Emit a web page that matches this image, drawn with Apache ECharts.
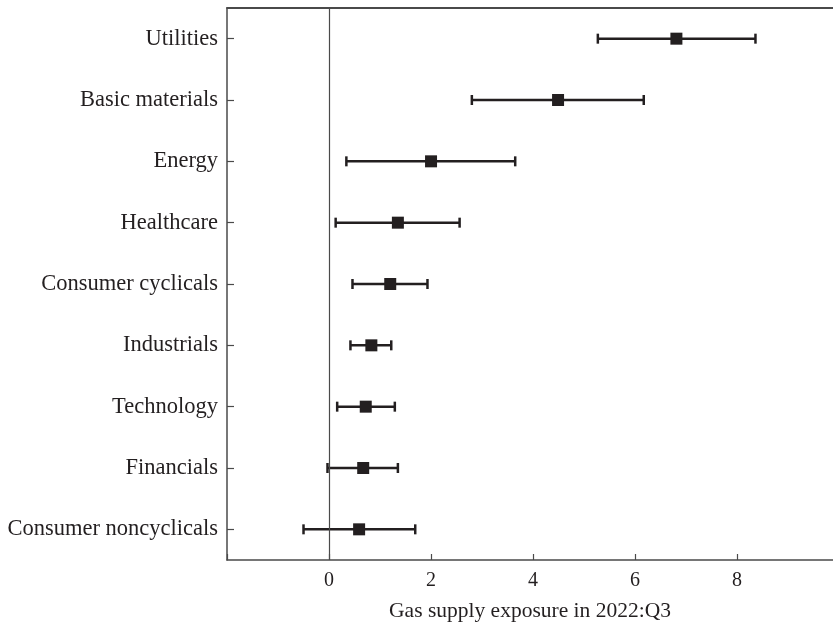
<!DOCTYPE html>
<html>
<head>
<meta charset="utf-8">
<script src="https://cdn.jsdelivr.net/npm/echarts@6/dist/echarts.min.js"></script>
<style>
  html, body { margin: 0; padding: 0; background: #fff; }
  #main { width: 833px; height: 625px; }
</style>
</head>
<body>
<div id="main"></div>
<script>
// sectors, top to bottom
const sectors = [
  "Utilities", "Basic materials", "Energy", "Healthcare", "Consumer cyclicals",
  "Industrials", "Technology", "Financials", "Consumer noncyclicals"
];
// point estimate and interval bounds
const estimate = [6.81, 4.49, 2.00, 1.35, 1.20, 0.83, 0.72, 0.67, 0.59];
const lower = [5.27, 2.80, 0.34, 0.13, 0.46, 0.42, 0.16, -0.03, -0.50];
const upper = [8.36, 6.17, 3.65, 2.56, 1.93, 1.22, 1.29, 1.35, 1.69];
const xTicks = [0, 2, 4, 6, 8];

const ink = "#231f20";
const axisGrey = "#4a4a4a";
const serif = "Liberation Serif";

const chart = echarts.init(document.getElementById("main"));

const option = {
  animation: false,
  grid: {
    left: 227,
    right: 0,
    top: 8,
    bottom: 65,
    containLabel: false,
    outerBoundsMode: "none",
  },
  xAxis: [
    {
      type: "value",
      min: -2,
      max: 9.88,
      interval: 2,
      splitLine: { show: false },
      axisLine: { show: true, onZero: false, lineStyle: { color: axisGrey, width: 1.5 } },
      axisTick: { show: true, inside: true, length: 6, lineStyle: { color: axisGrey, width: 1.2 } },
      axisLabel: {
        color: ink,
        fontFamily: serif,
        fontSize: 20,
        margin: 11,
        showMaxLabel: false,
        formatter: (v) => (xTicks.indexOf(v) >= 0 ? String(v) : ""),
      },
      name: "Gas supply exposure in 2022:Q3",
      nameLocation: "middle",
      nameGap: 40,
      nameTextStyle: { color: ink, fontFamily: serif, fontSize: 21.5 },
    },
    {
      // 顶部框线
      type: "value",
      position: "top",
      min: -2,
      max: 9.88,
      axisLine: { show: true, onZero: false, lineStyle: { color: axisGrey, width: 1.8 } },
      axisTick: { show: false },
      axisLabel: { show: false },
      splitLine: { show: false },
    },
  ],
  yAxis: {
    type: "category",
    data: sectors,
    inverse: true,
    axisLine: { show: true, onZero: false, lineStyle: { color: axisGrey, width: 1.5 } },
    axisTick: { show: true, inside: true, length: 7, alignWithLabel: true, lineStyle: { color: axisGrey, width: 1.2 } },
    axisLabel: { color: ink, fontFamily: serif, fontSize: 22.5, margin: 9 },
    splitLine: { show: false },
  },
  series: [
    {
      // 误差线
      type: "custom",
      data: sectors.map((s, i) => [lower[i], upper[i], i]),
      renderItem: (params, api) => {
        const lo = api.coord([api.value(0), api.value(2)]);
        const hi = api.coord([api.value(1), api.value(2)]);
        const cap = 5;
        const style = { stroke: ink, lineWidth: 2.5 };
        return {
          type: "group",
          children: [
            { type: "line", shape: { x1: lo[0], y1: lo[1], x2: hi[0], y2: hi[1] }, style },
            { type: "line", shape: { x1: lo[0], y1: lo[1] - cap, x2: lo[0], y2: lo[1] + cap }, style },
            { type: "line", shape: { x1: hi[0], y1: hi[1] - cap, x2: hi[0], y2: hi[1] + cap }, style },
          ],
        };
      },
      encode: { x: [0, 1], y: 2 },
      z: 3,
    },
    {
      type: "scatter",
      data: sectors.map((s, i) => [estimate[i], s]),
      symbol: "rect",
      symbolSize: 12,
      itemStyle: { color: ink, opacity: 1 },
      z: 4,
      markLine: {
        silent: true,
        symbol: "none",
        label: { show: false },
        lineStyle: { color: axisGrey, width: 1.2, type: "solid" },
        data: [{ xAxis: 0 }],
      },
    },
  ],
};

chart.setOption(option);
</script>
</body>
</html>
